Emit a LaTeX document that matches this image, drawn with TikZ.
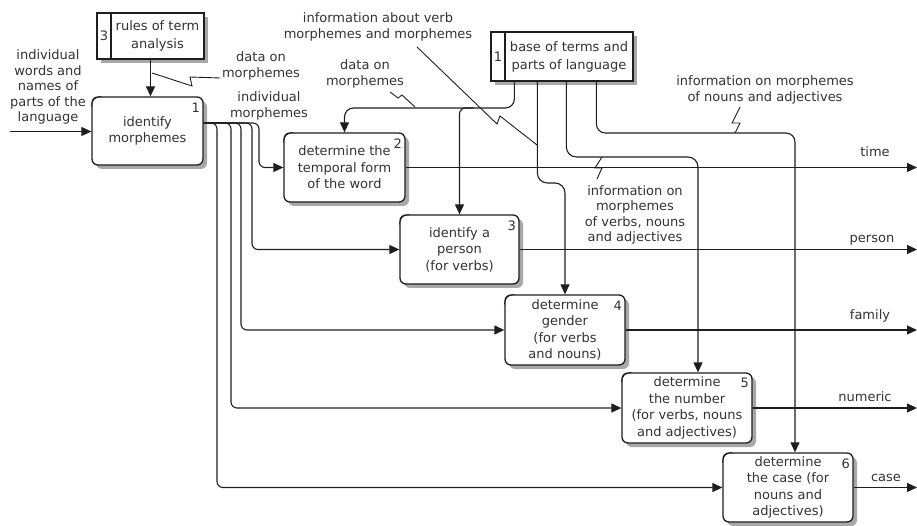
\documentclass[tikz,border=0pt]{standalone}
\usepackage{fontspec}
\setmainfont{DejaVu Sans}
\usetikzlibrary{arrows.meta,calc}
\definecolor{ink}{HTML}{1E1E1E}
\definecolor{txt}{HTML}{333333}
\definecolor{shadowgray}{HTML}{A8A8A8}
% an activity box with its shadow: name, centre, width, height, text
\newcommand{\actbox}[5]{%
  \fill[shadowgray,rounded corners=6pt] ($(#2)+(4-#3/2,4-#4/2)$) rectangle ++(#3,#4);
  \node[act,minimum width=#3,minimum height=#4] (#1) at (#2) {#5};}
% a data store with its shadow: name, centre, width, height, text (number cell apart)
\newcommand{\storebox}[5]{%
  \fill[shadowgray] ($(#2)+(4-#3/2,4-#4/2)$) rectangle ++(#3,#4);
  \node[store,minimum width=#3,minimum height=#4] (#1) at (#2) {#5};}
\begin{document}
\begin{tikzpicture}[x=1pt,y=-1pt,
  font=\fontsize{13}{15.5}\selectfont,
  conn/.style={draw=ink,line width=1.1pt,rounded corners=8pt},
  arr/.style={conn,-{Triangle[length=10pt,width=9pt]}},
  zig/.style={draw=ink,line width=0.9pt},
  act/.style={draw=ink,line width=1.3pt,fill=white,rounded corners=6pt,align=center,
    inner sep=2pt,text=txt,font=\fontsize{13}{16.5}\selectfont},
  store/.style={draw=ink,line width=1.3pt,fill=white,align=center,inner sep=2pt,
    text=txt,font=\fontsize{13}{18}\selectfont},
  lbl/.style={align=center,inner sep=0pt,text=txt},
  num/.style={inner sep=0pt,text=txt},
  notch/.style={draw=ink,line width=0.8pt}]
\useasboundingbox (0,0) rectangle (917,526);

% activity boxes
\actbox{b1}{147.5,131}{111}{68}{identify\\morphemes}
\actbox{b2}{344.5,167.5}{121}{69}{determine the\\temporal form\\of the word}
\actbox{b3}{459.5,249.5}{119}{69}{identify a\\person\\(for verbs)}
\actbox{b4}{565,330}{120}{70}{determine\\gender\\(for verbs\\and nouns)}
\actbox{b5}{687,408}{130}{70}{determine\\the number\\(for verbs, nouns\\and adjectives)}
\actbox{b6}{788,487.5}{130}{69}{determine\\the case (for\\nouns and\\adjectives)}

% box numbers and corner notches
\foreach \b/\n in {b1/1,b2/2,b3/3,b4/4,b5/5,b6/6}{
  \node[num] (n\n) at ([shift={(-8,11)}]\b.north east) {\n};
  \draw[notch] ([shift={(0,10)}]\b.north west) .. controls ([shift={(2,2)}]\b.north west) .. ([shift={(10,0)}]\b.north west);
}

% data stores: number cell first, so the text cell covers its shadow
\storebox{ctrlnum}{104,36}{14}{46}{3}
\storebox{ctrl}{157.5,36}{93}{46}{rules of term\\analysis}
\storebox{basenum}{498,56.5}{14}{49}{1}
\storebox{base}{569,56.5}{128}{49}{base of terms and\\parts of language}

% reference points
\coordinate (R) at (917,0);
\coordinate (in) at (10,131.5);
\coordinate (o1) at ([yshift=8pt]b1.east);
\coordinate (v2) at (259,0);
\coordinate (v3) at (252,0);
\coordinate (v4) at (241,0);
\coordinate (v5) at (231,0);
\coordinate (v6) at (217,0);
\coordinate (m1) at ($(base.south west)+(10,0)$);
\coordinate (m2) at ($(base.south west)+(33,0)$);
\coordinate (m3) at ($(base.south west)+(62,0)$);
\coordinate (m4) at ($(base.south west)+(92,0)$);
\coordinate (yA) at (0,108);
\coordinate (yB) at (0,183);
\coordinate (yC) at (0,157);
\coordinate (yD) at (0,133);
\coordinate (cA) at ($(ctrlnum.south west)!0.5!(ctrl.south east)$);
\path (b5.north) ++(11,0) coordinate (t5);
\path (b6.north) ++(7,0) coordinate (t6);
\path (b3.north |- yA) ++(14,0) coordinate (brA);

% input and control of the first activity
\draw[arr] (in) -- (in -| b1.west);
\draw[arr] (cA) -- (cA |- b1.north);

% individual morphemes fan out
\draw[arr,rounded corners=6pt] (o1) -| (v2 |- b2.west) -- (b2.west);
\draw[arr,rounded corners=6pt] (o1) -| (v3 |- b3.west) -- (b3.west);
\draw[arr,rounded corners=6pt] (o1) -| (v4 |- b4.west) -- (b4.west);
\draw[arr,rounded corners=6pt] (o1) -| (v5 |- b5.west) -- (b5.west);
\draw[arr,rounded corners=6pt] (o1) -| (v6 |- b6.west) -- (b6.west);

% outputs
\foreach \b in {b2,b3,b4,b5,b6}
  \draw[arr] (\b.east) -- (\b.east -| R);

% lines from the base of terms
\draw[arr,rounded corners=9pt] (m1) |- (b2.north |- yA) -- (b2.north);
\draw[arr,rounded corners=6pt] (brA) -| (b3.north);
\draw[arr,rounded corners=10pt] (m2) |- (b4.north |- yB) -- (b4.north);
\draw[arr,rounded corners=10pt] (m3) |- (t5 |- yC) -- (t5);
\draw[arr,rounded corners=9pt] (m4) |- (t6 |- yD) -- (t6);

% arrow labels
\node[lbl] (lin) at (48,87) {individual\\words and\\names of\\parts of the\\language};
\node[lbl] (ldata1) at (261,66) {data on\\morphemes};
\node[lbl] (lindiv) at (269,106) {individual\\morphemes};
\node[lbl] (ldata2) at (365,74) {data on\\morphemes};
\node[lbl] (linfo1) at (378,27) {information about verb\\morphemes and morphemes};
\node[lbl] (linfo2) at (765,90) {information on morphemes\\of nouns and adjectives};
\node[lbl] (linfo3) at (635,215) {information on\\morphemes\\of verbs, nouns\\and adjectives};
\node[lbl] (otime) at (875,152) {time};
\node[lbl] (operson) at (872,240) {person};
\node[lbl] (ofamily) at (870,316) {family};
\node[lbl] (onum) at (865,397) {numeric};
\node[lbl] (ocase) at (886,478) {case};

% squiggles tying labels to their arrows
\draw[zig] (152,73) -- (192,86) -- (190,77) -- (220,78);
\draw[zig] (390,92) -- (398,98) -- (402,95) -- (415,107);
\draw[zig] (417,47) -- (497,124) -- (500,116) -- (537,145);
\draw[zig] (740,107) -- (732,123) -- (740,123) -- (735,133);
\draw[zig] (602,157) -- (595,168) -- (602,168) -- (597,179);
\end{tikzpicture}
\end{document}
